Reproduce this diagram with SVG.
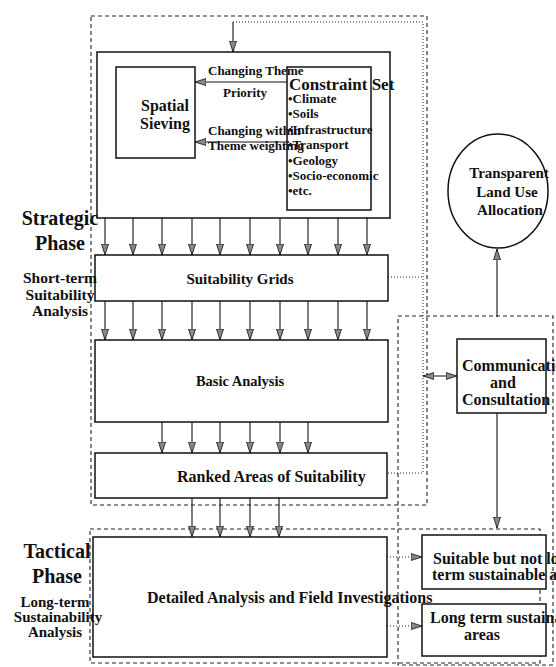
<svg xmlns="http://www.w3.org/2000/svg" width="556" height="667" viewBox="0 0 556 667">
<style>
text{font-family:"Liberation Serif","Times New Roman",serif;font-weight:bold;fill:#111}
.box{fill:#fff;stroke:#111;stroke-width:1.5}
.dash{fill:none;stroke:#222;stroke-width:1.1;stroke-dasharray:4 3}
.dot{fill:none;stroke:#222;stroke-width:1;stroke-dasharray:1 2}
.arr{fill:none;stroke:#111;stroke-width:1.1;marker-end:url(#ah)}
.darr{fill:none;stroke:#222;stroke-width:1;stroke-dasharray:1 2;marker-end:url(#ah)}
.m{text-anchor:middle}
</style>
<defs>
<marker id="ah" markerUnits="userSpaceOnUse" markerWidth="12" markerHeight="8" refX="11" refY="4" orient="auto-start-reverse">
<path d="M0,0.5 L11,4 L0,7.5 z" fill="#888" stroke="#111" stroke-width="0.8"/>
</marker>
</defs>
<g id="strategic-frame"><rect class="dash" x="91" y="16" width="336" height="489"/></g>
<g id="tactical-frame"><rect class="dash" x="90" y="529" width="450" height="134"/></g>
<g id="communication-frame"><rect class="dash" x="398" y="316" width="155" height="349"/></g>

<g id="main-box"><rect class="box" x="97" y="52" width="293" height="166"/></g>
<g id="spatial-sieving">
<rect class="box" x="116" y="67" width="79" height="91"/>
<text class="m" x="165" y="111" font-size="16">Spatial</text>
<text class="m" x="165" y="129" font-size="16">Sieving</text>
</g>
<g id="constraint-set">
<rect class="box" x="287" y="67" width="84" height="143"/>
<text x="289" y="90" font-size="17">Constraint Set</text>
<text x="288" y="103" font-size="13">•Climate</text>
<text x="288" y="118" font-size="13">•Soils</text>
<text x="288" y="134" font-size="13">•Infrastructure</text>
<text x="288" y="149" font-size="13">•Transport</text>
<text x="288" y="165" font-size="13">•Geology</text>
<text x="288" y="180" font-size="13">•Socio-economic</text>
<text x="288" y="195" font-size="13">•etc.</text>
</g>
<g id="theme-labels">
<text x="208" y="75" font-size="13">Changing Theme</text>
<text class="m" x="245" y="97" font-size="13">Priority</text>
<text x="208" y="135" font-size="13">Changing within</text>
<text x="208" y="150" font-size="13">Theme weighting</text>
</g>
<g id="suitability-grids">
<rect class="box" x="95" y="255" width="293" height="46"/>
<text class="m" x="240" y="284" font-size="15">Suitability Grids</text>
</g>
<g id="basic-analysis">
<rect class="box" x="95" y="340" width="293" height="82"/>
<text class="m" x="240" y="386" font-size="14.5">Basic Analysis</text>
</g>
<g id="ranked-areas">
<rect class="box" x="95" y="453" width="292" height="45"/>
<text x="177" y="482" font-size="16">Ranked Areas of Suitability</text>
</g>
<g id="detailed-analysis">
<rect class="box" x="93" y="537" width="294" height="120"/>
<text x="147" y="603" font-size="16">Detailed Analysis and Field Investigations</text>
</g>
<g id="communication">
<rect class="box" x="457" y="339" width="89" height="74"/>
<text x="462" y="371" font-size="16">Communication</text>
<text class="m" x="503" y="388" font-size="16">and</text>
<text x="462" y="405" font-size="16">Consultation</text>
</g>
<g id="transparent-allocation">
<ellipse cx="498" cy="191" rx="50" ry="57" fill="#fff" stroke="#111" stroke-width="1.5"/>
<text class="m" x="509" y="178" font-size="15">Transparent</text>
<text class="m" x="507" y="197" font-size="15">Land Use</text>
<text class="m" x="510" y="215" font-size="15">Allocation</text>
</g>
<g id="suitable-not-sustainable">
<rect class="box" x="422" y="535" width="124" height="54"/>
<text x="433" y="564" font-size="16">Suitable but not long</text>
<text x="432" y="580" font-size="16">term sustainable areas</text>
</g>
<g id="long-term-sustainable">
<rect class="box" x="422" y="604" width="124" height="52"/>
<text x="430" y="623" font-size="16">Long term sustainable</text>
<text class="m" x="482" y="640" font-size="16">areas</text>
</g>
<g id="phase-labels">
<text class="m" x="60" y="225" font-size="20">Strategic</text>
<text class="m" x="60" y="250" font-size="20">Phase</text>
<text class="m" x="60" y="283" font-size="15.5">Short-term</text>
<text class="m" x="60" y="300" font-size="15.5">Suitability</text>
<text class="m" x="60" y="316" font-size="15.5">Analysis</text>
<text class="m" x="57" y="558" font-size="20">Tactical</text>
<text class="m" x="57" y="583" font-size="20">Phase</text>
<text class="m" x="55" y="607" font-size="15">Long-term</text>
<text class="m" x="58" y="622" font-size="15">Sustainability</text>
<text class="m" x="55" y="637" font-size="15">Analysis</text>
</g>
<g id="connectors">
<path class="dot" d="M233,22 H423 V473 H387"/>
<path class="dot" d="M388,277 H423"/>
<path class="arr" d="M233,22 V52"/>
<path class="arr" d="M287,82 H195"/>
<path class="arr" d="M287,142 H195"/>
<path class="arr" d="M105,218 V255"/><path class="arr" d="M133,218 V255"/><path class="arr" d="M162,218 V255"/><path class="arr" d="M192,218 V255"/><path class="arr" d="M220,218 V255"/><path class="arr" d="M250,218 V255"/><path class="arr" d="M280,218 V255"/><path class="arr" d="M308,218 V255"/><path class="arr" d="M338,218 V255"/><path class="arr" d="M367,218 V255"/>
<path class="arr" d="M105,301 V340"/><path class="arr" d="M133,301 V340"/><path class="arr" d="M162,301 V340"/><path class="arr" d="M192,301 V340"/><path class="arr" d="M220,301 V340"/><path class="arr" d="M250,301 V340"/><path class="arr" d="M280,301 V340"/><path class="arr" d="M308,301 V340"/><path class="arr" d="M338,301 V340"/><path class="arr" d="M367,301 V340"/>
<path class="arr" d="M162,422 V453"/><path class="arr" d="M192,422 V453"/><path class="arr" d="M220,422 V453"/><path class="arr" d="M250,422 V453"/><path class="arr" d="M280,422 V453"/><path class="arr" d="M308,422 V453"/>
<path class="arr" d="M192,498 V537"/><path class="arr" d="M220,498 V537"/><path class="arr" d="M250,498 V537"/><path class="arr" d="M279,498 V537"/>
<path class="arr" d="M423,376 H457" marker-start="url(#ah)"/>
<path class="arr" d="M497,317 V249"/>
<path class="arr" d="M497,413 V528"/>
<path class="darr" d="M387,557 H422"/>
<path class="darr" d="M387,626 H422"/>
</g>
</svg>
